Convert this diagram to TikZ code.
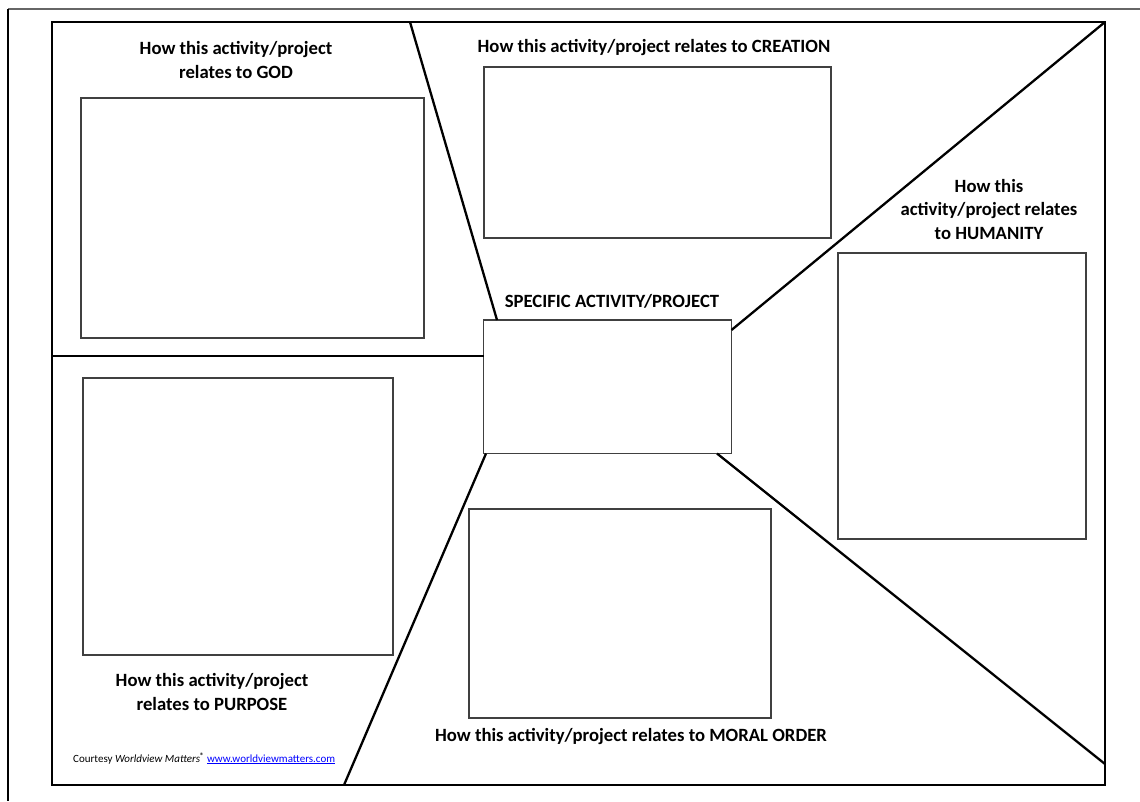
\documentclass[tikz,border=0pt]{standalone}
\usepackage{fontspec}
\setmainfont{Carlito}
\usetikzlibrary{fit}
\begin{document}
\begin{tikzpicture}[x=1pt,y=-1pt,
  frame/.style={line width=2.8pt,black},
  divider/.style={line width=2.3pt,black},
  answerbox/.style={draw=black!75,line width=1.3pt},
  label/.style={font=\fontsize{18.7}{23.5}\selectfont\bfseries,inner sep=0pt,align=center,anchor=base},
  outer/.style={line width=1.6pt}
]
\useasboundingbox (0,0) rectangle (1140,801);
% page edges
\draw[outer,black!60] (8,9) -- (1140,9);
\draw[outer,black] (8,9) -- (8,801);
% inner frame
\coordinate (fTL) at (52,22);
\coordinate (fBR) at (1105,785);
\draw[frame] (fTL) rectangle (fBR);
% centre box
\node[answerbox,inner sep=0pt,fit={(483.5,320) (731.5,453.5)}] (center) {};
% answer boxes
\draw[answerbox] (81,98) rectangle (424,338);
\draw[answerbox] (484,67) rectangle (831,238);
\draw[answerbox] (838,253) rectangle (1086,539);
\draw[answerbox] (83,378) rectangle (393,655);
\draw[answerbox] (469,509) rectangle (771,718);
% divider ends
\coordinate (dTop) at (410,22);
\coordinate (dTR) at (1105,22);
\coordinate (dBR) at (1105,764);
\coordinate (dBot) at (344,785);
\coordinate (dLeft) at (52,356);
\coordinate (cTop) at (497,320);
\coordinate (cTR) at (731.5,330);
\coordinate (cBR) at (717,453.5);
\coordinate (cBL) at (486,453.5);
\coordinate (cL) at (483.5,356);
\draw[divider] (dTop) -- (cTop);
\draw[divider] (cTR) -- (dTR);
\draw[divider] (cBR) -- (dBR);
\draw[divider] (cBL) -- (dBot);
\draw[divider] (dLeft) -- (cL);
% labels (base = baseline of last line)
\node[label] (lgod) at (236,78) {How this activity/project\\relates to GOD};
\node[label] (lcre) at (654,52) {How this activity/project relates to CREATION};
\node[label] (lhum) at (989,239) {How this\\activity/project relates\\to HUMANITY};
\node[label] (lspec) at (612,307) {SPECIFIC ACTIVITY/PROJECT};
\node[label] (lpur) at (212,710) {How this activity/project\\relates to PURPOSE};
\node[label] (lmor) at (631,741) {How this activity/project relates to MORAL ORDER};
\node[font=\fontsize{11}{13}\selectfont,inner sep=0pt,anchor=base west] (foot) at (73,762)
  {Courtesy \textit{Worldview Matters}\textsuperscript{\textbf{®}} \textcolor{blue}{\underline{www.worldviewmatters.com}}};
\end{tikzpicture}
\end{document}
